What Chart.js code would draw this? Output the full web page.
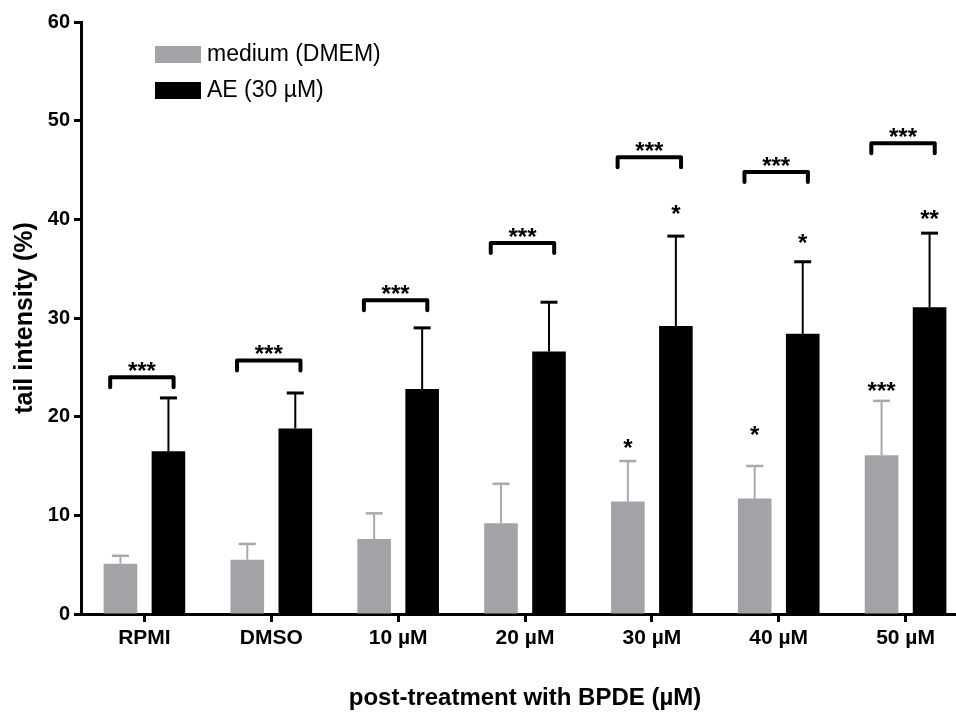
<!DOCTYPE html>
<html>
<head>
<meta charset="utf-8">
<script src="https://cdn.jsdelivr.net/npm/chart.js@4.4.1/dist/chart.umd.min.js"></script>
<style>
  html, body { margin: 0; padding: 0; background: #fff; overflow: hidden; }
  canvas { display: block; }
</style>
</head>
<body>
<canvas id="myChart" width="969" height="717"></canvas>
<script>
const categories = ['RPMI', 'DMSO', '10 µM', '20 µM', '30 µM', '40 µM', '50 µM'];
const mediumMean = [5.1, 5.5, 7.6, 9.2, 11.4, 11.7, 16.1];
const mediumSD = [0.8, 1.6, 2.6, 4.0, 4.1, 3.3, 5.5];
const aeMean = [16.5, 18.8, 22.8, 26.6, 29.2, 28.4, 31.1];
const aeSD = [5.4, 3.6, 6.2, 5.0, 9.1, 7.3, 7.5];
const yTicks = [0, 10, 20, 30, 40, 50, 60];

// significance marks
const bracketY = [24.0, 25.7, 31.8, 37.6, 46.3, 44.8, 47.7];
const bracketStars = ['***', '***', '***', '***', '***', '***', '***'];
const mediumStars = ['', '', '', '', '*', '*', '***'];
const mediumStarY = [0, 0, 0, 0, 17.4, 18.7, 23.2];
const aeStars = ['', '', '', '', '*', '*', '**'];
const aeStarY = [0, 0, 0, 0, 41.1, 38.2, 40.6];

const GRAY = '#a3a2a7';
const FONT = '"Liberation Sans", Arial, sans-serif';

function starText(ctx, txt, cx, cy) {
    // cy is the centre of the asterisk glyph
    ctx.font = 'bold 24px ' + FONT;
    ctx.fillStyle = '#000';
    ctx.textAlign = 'center';
    ctx.textBaseline = 'alphabetic';
    ctx.fillText(txt, cx, cy + 0.57 * 24);
}

const extras = {
    id: 'extras',
    afterDatasetsDraw(chart) {
        const ctx = chart.ctx;
        const x = chart.scales.x, y = chart.scales.y;
        const sets = [[mediumMean, mediumSD, '#a9a9ad', 2, 2.5], [aeMean, aeSD, '#000', 2, 3]];
        sets.forEach(function (s, di) {
            const meta = chart.getDatasetMeta(di);
            meta.data.forEach(function (bar, i) {
                const cx = bar.x;
                const yt = y.getPixelForValue(s[0][i] + s[1][i]);
                const yb = y.getPixelForValue(s[0][i]);
                ctx.save();
                ctx.strokeStyle = s[2];
                ctx.lineWidth = s[3];
                ctx.beginPath(); ctx.moveTo(cx, yb); ctx.lineTo(cx, yt); ctx.stroke();
                ctx.lineWidth = s[4];
                ctx.beginPath(); ctx.moveTo(cx - 8.5, yt); ctx.lineTo(cx + 8.5, yt); ctx.stroke();
                ctx.restore();
            });
        });

        const catW = (x.right - x.left) / categories.length;
        ctx.save();
        categories.forEach(function (c, i) {
            const cx = x.getPixelForValue(i);
            const l = cx - 0.27 * catW, r = cx + 0.23 * catW;
            const by = y.getPixelForValue(bracketY[i]);
            ctx.strokeStyle = '#000';
            ctx.lineWidth = 4;
            ctx.lineJoin = 'round';
            ctx.lineCap = 'round';
            ctx.beginPath();
            ctx.moveTo(l, by + 10);
            ctx.lineTo(l, by);
            ctx.lineTo(r, by);
            ctx.lineTo(r, by + 10);
            ctx.stroke();
            starText(ctx, bracketStars[i], (l + r) / 2, by - 12);

            const m0 = chart.getDatasetMeta(0).data[i];
            const m1 = chart.getDatasetMeta(1).data[i];
            if (mediumStars[i]) starText(ctx, mediumStars[i], m0.x, y.getPixelForValue(mediumStarY[i]));
            if (aeStars[i]) starText(ctx, aeStars[i], m1.x, y.getPixelForValue(aeStarY[i]));
        });
        ctx.restore();
    },
    afterDraw(chart) {
        // legend
        const ctx = chart.ctx;
        ctx.save();
        chart.data.datasets.forEach(function (ds, i) {
            const top = 46 + i * 36;
            ctx.fillStyle = ds.backgroundColor;
            ctx.fillRect(155, top, 46, 17);
            ctx.fillStyle = '#000';
            ctx.font = '23px ' + FONT;
            ctx.textAlign = 'left';
            ctx.textBaseline = 'middle';
            ctx.fillText(ds.label, 207, top + 9);
        });
        ctx.restore();
    }
};

new Chart(document.getElementById('myChart'), {
    type: 'bar',
    data: {
        labels: categories,
        datasets: [
            { label: 'medium (DMEM)', data: mediumMean, backgroundColor: GRAY, borderWidth: 0 },
            { label: 'AE (30 µM)', data: aeMean, backgroundColor: '#000', borderWidth: 0 }
        ]
    },
    options: {
        responsive: false,
        animation: false,
        devicePixelRatio: 1,
        barPercentage: 0.7,
        categoryPercentage: 0.757,
        layout: { padding: { top: 22, left: 0, right: 0, bottom: 0 } },
        plugins: { legend: { display: false }, tooltip: { enabled: false } },
        scales: {
            x: {
                grid: { display: true, offset: false, drawOnChartArea: false, color: '#000', tickLength: 8, tickWidth: 3 },
                border: { color: '#000', width: 3 },
                ticks: { color: '#000', padding: 4, font: { family: FONT, size: 21, weight: 'bold' } },
                title: { display: true, text: 'post-treatment with BPDE (µM)', color: '#000',
                         font: { family: FONT, size: 24, weight: 'bold' }, padding: { top: 0, bottom: 4 } },
                afterFit: function (s) { s.height = 103; }
            },
            y: {
                min: 0, max: 60,
                afterBuildTicks: function (s) { s.ticks = yTicks.map(function (v) { return { value: v }; }); },
                grid: { display: true, drawOnChartArea: false, color: '#000', tickLength: 7, tickWidth: 3 },
                border: { color: '#000', width: 3 },
                ticks: { color: '#000', padding: 4, font: { family: FONT, size: 20, weight: 'bold' } },
                title: { display: true, text: 'tail intensity (%)', color: '#000',
                         font: { family: FONT, size: 25, weight: 'bold' }, padding: { top: 10, bottom: 0 } },
                afterFit: function (s) { s.width = 81; }
            }
        }
    },
    plugins: [extras]
});
</script>
</body>
</html>
